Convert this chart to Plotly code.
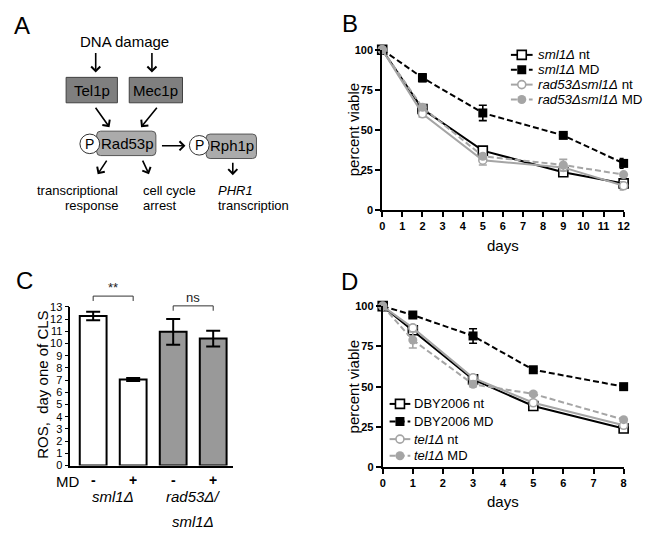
import plotly.graph_objects as go

W, H = 654, 538
FONT = "Arial, Liberation Sans, sans-serif"
BLACK = "black"
GRAY = "#a5a5a5"
BARGRAY = "#999999"

# ---------------- data ----------------
# Panel B
b_days = [0, 2, 5, 9, 12]
b_sml1_nt = [100, 63, 37, 23.5, 16.5]
b_sml1_nt_err = [0, 2, 1.5, 1.5, 1.5]
b_sml1_md = [100, 82.5, 60.5, 46.5, 29]
b_sml1_md_err = [0, 2.5, 4.8, 1, 3]
b_rad53_nt = [100, 60, 31, 26.5, 15]
b_rad53_nt_err = [0, 2, 3, 2, 2.5]
b_rad53_md = [100, 64, 33.5, 28, 22]
b_rad53_md_err = [0, 1.5, 1.5, 3.5, 1]
b_names = ["<i>sml1Δ</i> nt", "<i>sml1Δ</i> MD",
           "<i>rad53Δsml1Δ</i> nt", "<i>rad53Δsml1Δ</i> MD"]
b_xticks = list(range(0, 13))
b_yticks = [0, 25, 50, 75, 100]

# Panel C
c_pos = [0, 1, 2, 3]
c_md = ["-", "+", "-", "+"]
c_ros = [12.25, 7.05, 10.95, 10.4]
c_ros_err = [0.35, 0.12, 1.05, 0.65]
c_yticks = list(range(0, 14))
c_sig_pairs = [(0, 1), (2, 3)]
c_sig_text = ["**", "ns"]
c_sig_level = [13.88, 13.08]

# Panel D
d_days = [0, 1, 3, 5, 8]
d_dby_nt = [100, 85, 54.5, 38, 24]
d_dby_nt_err = [0, 1.5, 1.5, 1.5, 1]
d_dby_md = [100, 94.5, 81.5, 60.5, 50]
d_dby_md_err = [0, 1.5, 4.5, 1, 1]
d_tel1_nt = [100, 86.5, 55.5, 40, 26]
d_tel1_nt_err = [0, 1.5, 1.5, 1.5, 1]
d_tel1_md = [100, 79, 51.5, 45.5, 29.5]
d_tel1_md_err = [0, 5, 1.5, 1, 1]
d_names = ["DBY2006 nt", "DBY2006 MD", "<i>tel1Δ</i> nt", "<i>tel1Δ</i> MD"]
d_xticks = list(range(0, 9))
d_yticks = [0, 25, 50, 75, 100]


def PX(x):
    return x / W


def PY(y):
    return 1 - y / H


# styles for the four series (same in B and D)
STYLES = [
    dict(color=BLACK, dash="solid",
         marker=dict(symbol="square", size=9, color="white", line=dict(color=BLACK, width=1.6))),
    dict(color=BLACK, dash="6px,3px",
         marker=dict(symbol="square", size=9, color=BLACK, line=dict(color=BLACK, width=0))),
    dict(color=GRAY, dash="solid",
         marker=dict(symbol="circle", size=8, color="white", line=dict(color=GRAY, width=1.6))),
    dict(color=GRAY, dash="6px,3px",
         marker=dict(symbol="circle", size=9, color=GRAY, line=dict(color=GRAY, width=0))),
]

fig = go.Figure()

# ---------------- panel B ----------------
for ys, es, st in zip([b_sml1_nt, b_sml1_md, b_rad53_nt, b_rad53_md],
                      [b_sml1_nt_err, b_sml1_md_err, b_rad53_nt_err, b_rad53_md_err], STYLES):
    fig.add_trace(go.Scatter(
        x=b_days, y=ys, mode="lines+markers", xaxis="x", yaxis="y",
        line=dict(color=st["color"], width=2, dash=st["dash"]),
        marker=st["marker"],
        error_y=dict(type="data", array=es, color=st["color"], thickness=1.6, width=4),
        cliponaxis=False, hoverinfo="skip", showlegend=False))

# ---------------- panel D ----------------
for ys, es, st in zip([d_dby_nt, d_dby_md, d_tel1_nt, d_tel1_md],
                      [d_dby_nt_err, d_dby_md_err, d_tel1_nt_err, d_tel1_md_err], STYLES):
    fig.add_trace(go.Scatter(
        x=d_days, y=ys, mode="lines+markers", xaxis="x3", yaxis="y3",
        line=dict(color=st["color"], width=2, dash=st["dash"]),
        marker=st["marker"],
        error_y=dict(type="data", array=es, color=st["color"], thickness=1.6, width=4),
        cliponaxis=False, hoverinfo="skip", showlegend=False))

# ---------------- panel C ----------------
fig.add_trace(go.Bar(
    x=c_pos, y=c_ros, width=0.67, xaxis="x2", yaxis="y2",
    marker=dict(color=["white", "white", BARGRAY, BARGRAY], line=dict(color=BLACK, width=2)),
    error_y=dict(type="data", array=c_ros_err, color=BLACK, thickness=2, width=7),
    hoverinfo="skip", showlegend=False))


# ---------------- manual legends (overlay pixel axes) ----------------
def add_legend(names, x0, x1, ys, tx, size):
    xm = (x0 + x1) / 2
    for name, st, y in zip(names, STYLES, ys):
        fig.add_trace(go.Scatter(
            x=[x0, x1], y=[y, y], mode="lines", xaxis="x4", yaxis="y4",
            line=dict(color=st["color"], width=2, dash=st["dash"]),
            hoverinfo="skip", showlegend=False))
        fig.add_trace(go.Scatter(
            x=[xm], y=[y], mode="markers", xaxis="x4", yaxis="y4",
            marker=st["marker"], hoverinfo="skip", showlegend=False))
        fig.add_annotation(x=tx, y=y, xref="x4", yref="y4", text=name, showarrow=False,
                           xanchor="left", yanchor="middle",
                           font=dict(size=size, color=BLACK, family=FONT))


add_legend(b_names, 515, 537, [50, 65.2, 80.4, 95.6], 540, 13.3)
add_legend(d_names, 392, 413, [407, 425, 443, 460], 415, 13)

# ---------------- axes ----------------
axis_common = dict(showline=True, linecolor=BLACK, linewidth=2, ticks="outside",
                   ticklen=5, tickwidth=2, tickcolor=BLACK, showgrid=False, zeroline=False,
                   tickfont=dict(size=11, family=FONT, color=BLACK, weight="bold"),
                   fixedrange=True)

fig.update_layout(
    width=W, height=H, margin=dict(l=0, r=0, t=0, b=0),
    paper_bgcolor="white", plot_bgcolor="rgba(0,0,0,0)", showlegend=False,
    font=dict(family=FONT, color=BLACK),
    xaxis=dict(domain=[PX(384.5), PX(629.3)], range=[0, 12], anchor="y",
               tickmode="array", tickvals=b_xticks, **axis_common),
    yaxis=dict(domain=[PY(208.5), PY(44.7)], range=[0, 100], anchor="x",
               tickmode="array", tickvals=b_yticks, **axis_common),
    xaxis3=dict(domain=[PX(385), PX(629.3)], range=[0, 8], anchor="y3",
                tickmode="array", tickvals=d_xticks, **axis_common),
    yaxis3=dict(domain=[PY(471.7), PY(307)], range=[0, 100], anchor="x3",
                tickmode="array", tickvals=d_yticks, **axis_common),
    xaxis2=dict(domain=[PX(68.3), PX(233)], range=[-0.57, 3.49], anchor="y2",
                showline=True, linecolor=BLACK, linewidth=1.6, ticks="",
                showticklabels=False, showgrid=False, zeroline=False, fixedrange=True),
    yaxis2=dict(domain=[PY(470), PY(307.7)], range=[0, 13], anchor="x2",
                showline=True, linecolor=BLACK, linewidth=1.6, ticks="outside",
                ticklen=4, tickwidth=1.4, tickcolor=BLACK, tickmode="array", tickvals=c_yticks,
                tickfont=dict(size=11, family=FONT, color=BLACK),
                showgrid=False, zeroline=False, fixedrange=True),
    xaxis4=dict(domain=[0, 1], range=[0, W], anchor="y4", visible=False, fixedrange=True),
    yaxis4=dict(domain=[0, 1], range=[H, 0], anchor="x4", visible=False, fixedrange=True),
)

# ---------------- panel C extras ----------------
for (a, b), txt, lvl in zip(c_sig_pairs, c_sig_text, c_sig_level):
    fig.add_shape(type="path", xref="x2", yref="y2 domain",
                  path=f"M {a},{(lvl - 0.4) / 13} L {a},{lvl / 13} L {b},{lvl / 13} L {b},{(lvl - 0.4) / 13}",
                  line=dict(color="#333333", width=1))
    fig.add_annotation(x=(a + b) / 2, y=(lvl + 0.7) / 13, xref="x2", yref="y2 domain",
                       text=txt, showarrow=False, xanchor="center", yanchor="middle",
                       font=dict(size=13, color="#222222", family=FONT))


def small_box_text(x, y, s, xref, size):
    fig.add_annotation(x=x, y=PY(y), xref=xref, yref="paper", text=s, showarrow=False,
                       xanchor="center", yanchor="middle", height=12, valign="middle",
                       borderpad=0, font=dict(size=size, color=BLACK, family=FONT))


for p, s in zip(c_pos, c_md):
    small_box_text(p, 484.5, f"<b>{s}</b>", "x2", 14)
small_box_text(PX(65), 486, "MD", "paper", 15)
small_box_text(0.5, 501, "<i>sml1Δ</i>", "x2", 15)
small_box_text(2.5, 501, "<i>rad53Δ/</i>", "x2", 15)
small_box_text(2.5, 527, "<i>sml1Δ</i>", "x2", 15)


def text(x, y, s, size=15, angle=0, xanchor="center", color=BLACK):
    fig.add_annotation(x=PX(x), y=PY(y), xref="paper", yref="paper", text=s, showarrow=False,
                       xanchor=xanchor, yanchor="middle", textangle=angle,
                       font=dict(size=size, color=color, family=FONT))


# axis titles
text(355, 127, "percent viable", 15, -90)
text(507, 245, "days", 15)
text(355, 390, "percent viable", 15, -90)
text(507, 507, "days", 15)
text(40, 387, "ROS,\u00a0 day one of CLS", 15, -90)

# panel letters
text(19, 20, "A", 24)
text(352, 18, "B", 24)
text(22, 281, "C", 24)
text(351, 282, "D", 24)


# ---------------- panel A diagram ----------------
def rect(x0, y0, x1, y1, fill, line):
    fig.add_shape(type="rect", xref="paper", yref="paper",
                  x0=PX(x0), x1=PX(x1), y0=PY(y1), y1=PY(y0),
                  fillcolor=fill, line=dict(color=line, width=1))


def rrect(x0, y0, x1, y1, r, fill, line):
    p = (f"M {PX(x0 + r)},{PY(y0)} L {PX(x1 - r)},{PY(y0)} Q {PX(x1)},{PY(y0)} {PX(x1)},{PY(y0 + r)} "
         f"L {PX(x1)},{PY(y1 - r)} Q {PX(x1)},{PY(y1)} {PX(x1 - r)},{PY(y1)} "
         f"L {PX(x0 + r)},{PY(y1)} Q {PX(x0)},{PY(y1)} {PX(x0)},{PY(y1 - r)} "
         f"L {PX(x0)},{PY(y0 + r)} Q {PX(x0)},{PY(y0)} {PX(x0 + r)},{PY(y0)} Z")
    fig.add_shape(type="path", xref="paper", yref="paper", path=p,
                  fillcolor=fill, line=dict(color=line, width=1))


def circle(cx, cy, r):
    fig.add_shape(type="circle", xref="paper", yref="paper",
                  x0=PX(cx - r), x1=PX(cx + r), y0=PY(cy + r), y1=PY(cy - r),
                  fillcolor="white", line=dict(color="#333333", width=1))


def arrow(x0, y0, x1, y1):
    fig.add_annotation(x=PX(x1), y=PY(y1), xref="paper", yref="paper",
                       ax=x0 - x1, ay=y0 - y1, axref="pixel", ayref="pixel",
                       text="", showarrow=True, arrowhead=4, arrowsize=1.1, arrowwidth=1.6,
                       arrowcolor=BLACK, standoff=0, startstandoff=0)


text(123, 36, "DNA damage", 15)
arrow(94, 47, 94, 68)
arrow(151, 47, 151, 68)
rect(64, 73, 116, 99, "#7f7f7f", "#404040")
rect(128, 73, 182, 99, "#7f7f7f", "#404040")
text(90, 86, "Tel1p", 15)
text(155, 86, "Mec1p", 15)
arrow(93, 103, 108, 124)
arrow(157, 103, 140, 124)
rrect(95, 128, 155, 153, 4, "#ababab", "#555555")
circle(88, 141, 10)
text(88, 141, "P", 14)
text(126, 140.5, "Rad53p", 15)
arrow(160, 143, 185, 143)
rrect(206, 131, 257, 156, 4, "#ababab", "#555555")
circle(199, 142.5, 10)
text(199, 142.5, "P", 14)
text(232, 143, "Rph1p", 15)
arrow(106, 157, 96, 172)
arrow(141, 157, 148, 172)
arrow(233, 159, 233, 173)
text(119, 189, "transcriptional", 13, xanchor="right")
text(119, 204, "response", 13, xanchor="right")
text(140, 189, "cell cycle", 13, xanchor="left")
text(140, 204, "arrest", 13, xanchor="left")
text(216, 189, "<i>PHR1</i>", 13, xanchor="left")
text(216, 204, "transcription", 13, xanchor="left")

fig.write_html("out.html", config={"displayModeBar": False},
               post_script="document.body.style.margin='0';document.body.style.overflow='hidden';")
